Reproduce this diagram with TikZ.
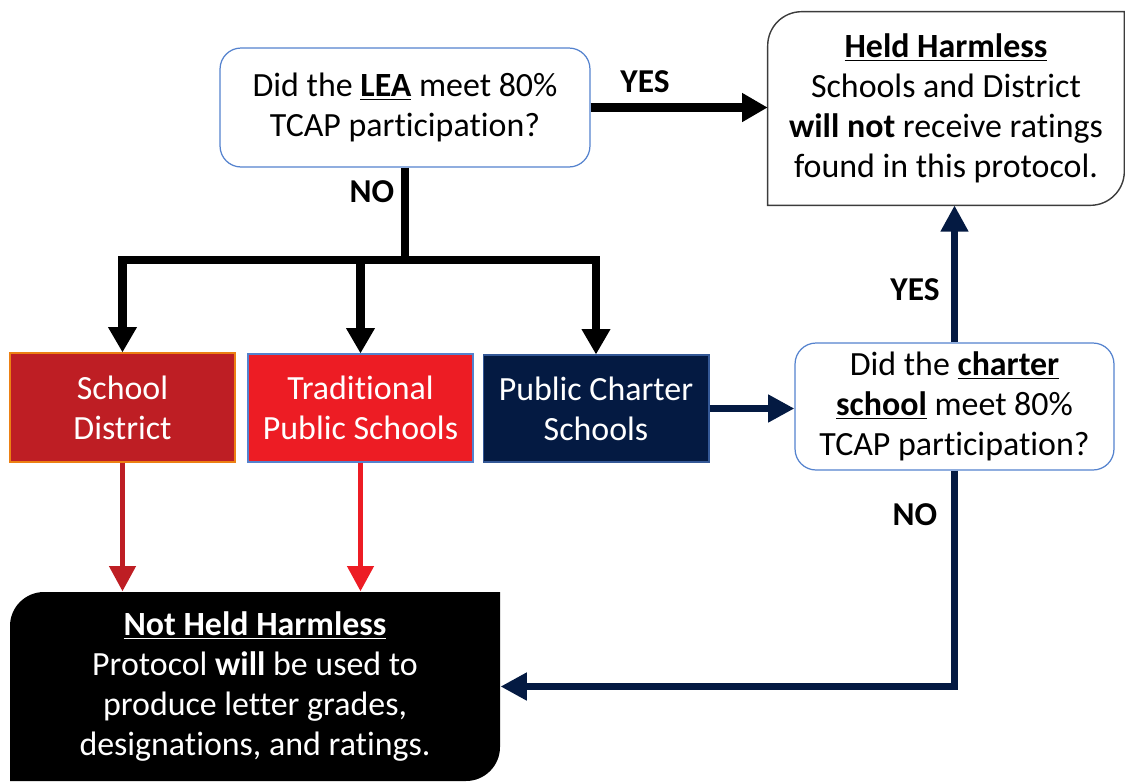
\documentclass[tikz,border=0pt]{standalone}
\usepackage{fontspec}
\setmainfont{Carlito}[Ligatures=NoCommon]
\usetikzlibrary{arrows.meta,calc,positioning}
\definecolor{qblue}{RGB}{84,130,206}
\definecolor{distred}{RGB}{190,30,36}
\definecolor{tradred}{RGB}{237,28,36}
\definecolor{navy}{RGB}{4,26,66}
\definecolor{hhgray}{RGB}{60,60,60}
\tikzset{
	txt/.style={font=\fontsize{19.3}{22.7}\selectfont, align=center, inner sep=0pt},
	qbox/.style={txt, draw=qblue, line width=0.7pt, rounded corners=0.42cm, fill=white},
	fillbox/.style={txt, text=white, line width=0.6pt},
	lbl/.style={font=\fontsize{19}{20}\selectfont\bfseries, inner sep=0pt},
	blk/.style={line width=5pt, -{Triangle[width=15.5pt,length=14.5pt]}},
	nvy/.style={navy, line width=4.5pt, -{Triangle[width=15pt,length=15pt]}},
	redarr/.style={line width=3.4pt, -{Triangle[width=14.5pt,length=14.5pt]}}
}
\begin{document}
\begin{tikzpicture}[x=0.02cm, y=-0.02cm]
	\useasboundingbox (0,0) rectangle (1125,782);
	% question boxes
	\node[qbox, minimum width=7.4cm, minimum height=2.38cm] (lea) at (405,107.5)
		{Did the \underline{\textbf{LEA}} meet 80\%\\TCAP participation?};
	\node[qbox, minimum width=6.38cm, minimum height=2.54cm] (chq) at (954.5,406.5)
		{Did the \underline{\textbf{charter}}\\\underline{\textbf{school}} meet 80\%\\TCAP participation?};
	% result boxes, drawn with two round corners
	\node[txt, minimum width=7.12cm, minimum height=3.86cm] (held) at (946,108.5)
		{\underline{\textbf{Held Harmless}}\\Schools and District\\\textbf{will not} receive ratings\\found in this protocol.};
	\draw[hhgray, line width=0.8pt] (held.south west) -- ($(held.north west)+(0,34)$)
		arc[start angle=180, end angle=90, radius=0.68cm] -- (held.north east)
		-- ($(held.south east)+(0,-34)$) arc[start angle=0, end angle=-90, radius=0.68cm] -- cycle;
	\fill[black] (10,781) -- (10,626) arc[start angle=180, end angle=90, radius=0.68cm]
		-- (500,592) -- (500,747) arc[start angle=0, end angle=-90, radius=0.68cm] -- cycle;
	\node[fillbox, minimum width=9.8cm, minimum height=3.78cm] (nhh) at (255,686.5)
		{\underline{\textbf{Not Held Harmless}}\\Protocol \textbf{will} be used to\\produce letter grades,\\designations, and ratings.};
	% school types
	\node[fillbox, fill=distred, draw=orange!70!brown, minimum width=4.5cm, minimum height=2.18cm] (dist) at (122.5,407.5)
		{School\\District};
	\node[fillbox, fill=tradred, draw=qblue, minimum width=4.5cm, minimum height=2.16cm] (trad) at (360.5,408)
		{Traditional\\Public Schools};
	\node[fillbox, fill=navy, draw=qblue!60!navy, minimum width=4.52cm, minimum height=2.14cm] (charter) at (596,408.5)
		{Public Charter\\Schools};
	% connectors
	\coordinate (bus) at (405,260);
	\draw[blk] (lea.east) -- (lea.east -| held.west);
	\draw[line width=5pt] (lea.south) -- (bus);
	\draw[blk] (bus) -| (dist.north);
	\draw[blk] (bus) -| (trad.north);
	\draw[blk] (bus) -| (charter.north);
	\draw[nvy] (charter.east) -- (charter.east -| chq.west);
	\draw[nvy] (chq.north) -- (chq.north |- held.south);
	\draw[nvy] (chq.south) |- (nhh.east);
	\draw[redarr, distred] (dist.south) -- (dist.south |- nhh.north);
	\draw[redarr, tradred] (trad.south) -- (trad.south |- nhh.north);
	% labels
	\node[lbl] (yes1) at (645,82) {YES};
	\node[lbl] (no1) at (372,192) {NO};
	\node[lbl] (yes2) at (915,290) {YES};
	\node[lbl] (no2) at (915,515) {NO};
\end{tikzpicture}
\end{document}
